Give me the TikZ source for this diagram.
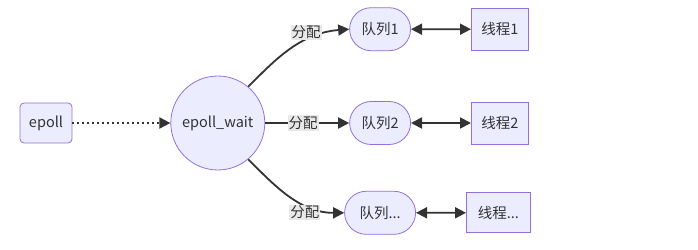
\documentclass[tikz,border=0pt]{standalone}
\usepackage{fontspec}
\setmainfont{Noto Sans CJK SC}
\usepackage{tikz}
\usetikzlibrary{shapes.misc,arrows.meta,positioning}
\definecolor{nodefill}{HTML}{ECECFF}
\definecolor{nodeline}{HTML}{9370DB}
\definecolor{edgeline}{HTML}{333333}
\definecolor{lblfill}{HTML}{E8E8E8}

\begin{document}
\begin{tikzpicture}[x=1pt, y=-1pt,
    base/.style={draw=nodeline, fill=nodefill, line width=0.8pt, text=edgeline, font=\fontsize{14.5pt}{17pt}\selectfont, inner sep=2pt},
    src/.style={base, rectangle, rounded corners=4pt, minimum width=52pt, minimum height=40pt},
    hub/.style={base, circle, minimum size=94pt},
    queue/.style={base, rounded rectangle, minimum width=65pt, minimum height=43pt},
    worker/.style={base, rectangle, minimum width=57pt, minimum height=42pt},
    lbl/.style={fill=lblfill, text=edgeline, font=\fontsize{14.5pt}{17pt}\selectfont, inner sep=1pt},
    arrow/.style={-{Triangle[length=11pt,width=11pt]}, line width=1.8pt, draw=edgeline},
    both/.style={{Triangle[length=11pt,width=11pt]}-{Triangle[length=11pt,width=11pt]}, line width=1.8pt, draw=edgeline},
    dots/.style={-{Triangle[length=11pt,width=11pt]}, line width=1.8pt, draw=edgeline, dash pattern=on 2pt off 3pt}
]
\useasboundingbox (0,0) rectangle (698,249);

\node[src] (epoll) at (46,123) {epoll};
\node[hub, right=98pt of epoll] (wait) {epoll\_wait};

\node[queue, right=84pt of wait] (q2) {队列2};
\node[queue, above=50pt of q2] (q1) {队列1};
\node[queue, below=46pt of q2, minimum width=75pt] (q3) {队列...};

\node[worker, right=60pt of q1] (t1) {线程1};
\node[worker, right=60pt of q2] (t2) {线程2};
\node[worker, right=50pt of q3, minimum width=64pt, minimum height=40pt] (t3) {线程...};

\draw[dots] (epoll) -- (wait);

\draw[arrow] (wait.50) .. controls +(26,-26) and (300,33) .. node[lbl, pos=0.66, yshift=8pt] {分配} (q1.west);
\draw[arrow] (wait) -- node[lbl, pos=0.45] {分配} (q2);
\draw[arrow] (wait.-50) .. controls +(26,26) and (300,213) .. node[lbl, pos=0.66, yshift=-8pt] {分配} (q3.west);

\draw[both] (q1) -- (t1);
\draw[both] (q2) -- (t2);
\draw[both] (q3) -- (t3);

\end{tikzpicture}
\end{document}
